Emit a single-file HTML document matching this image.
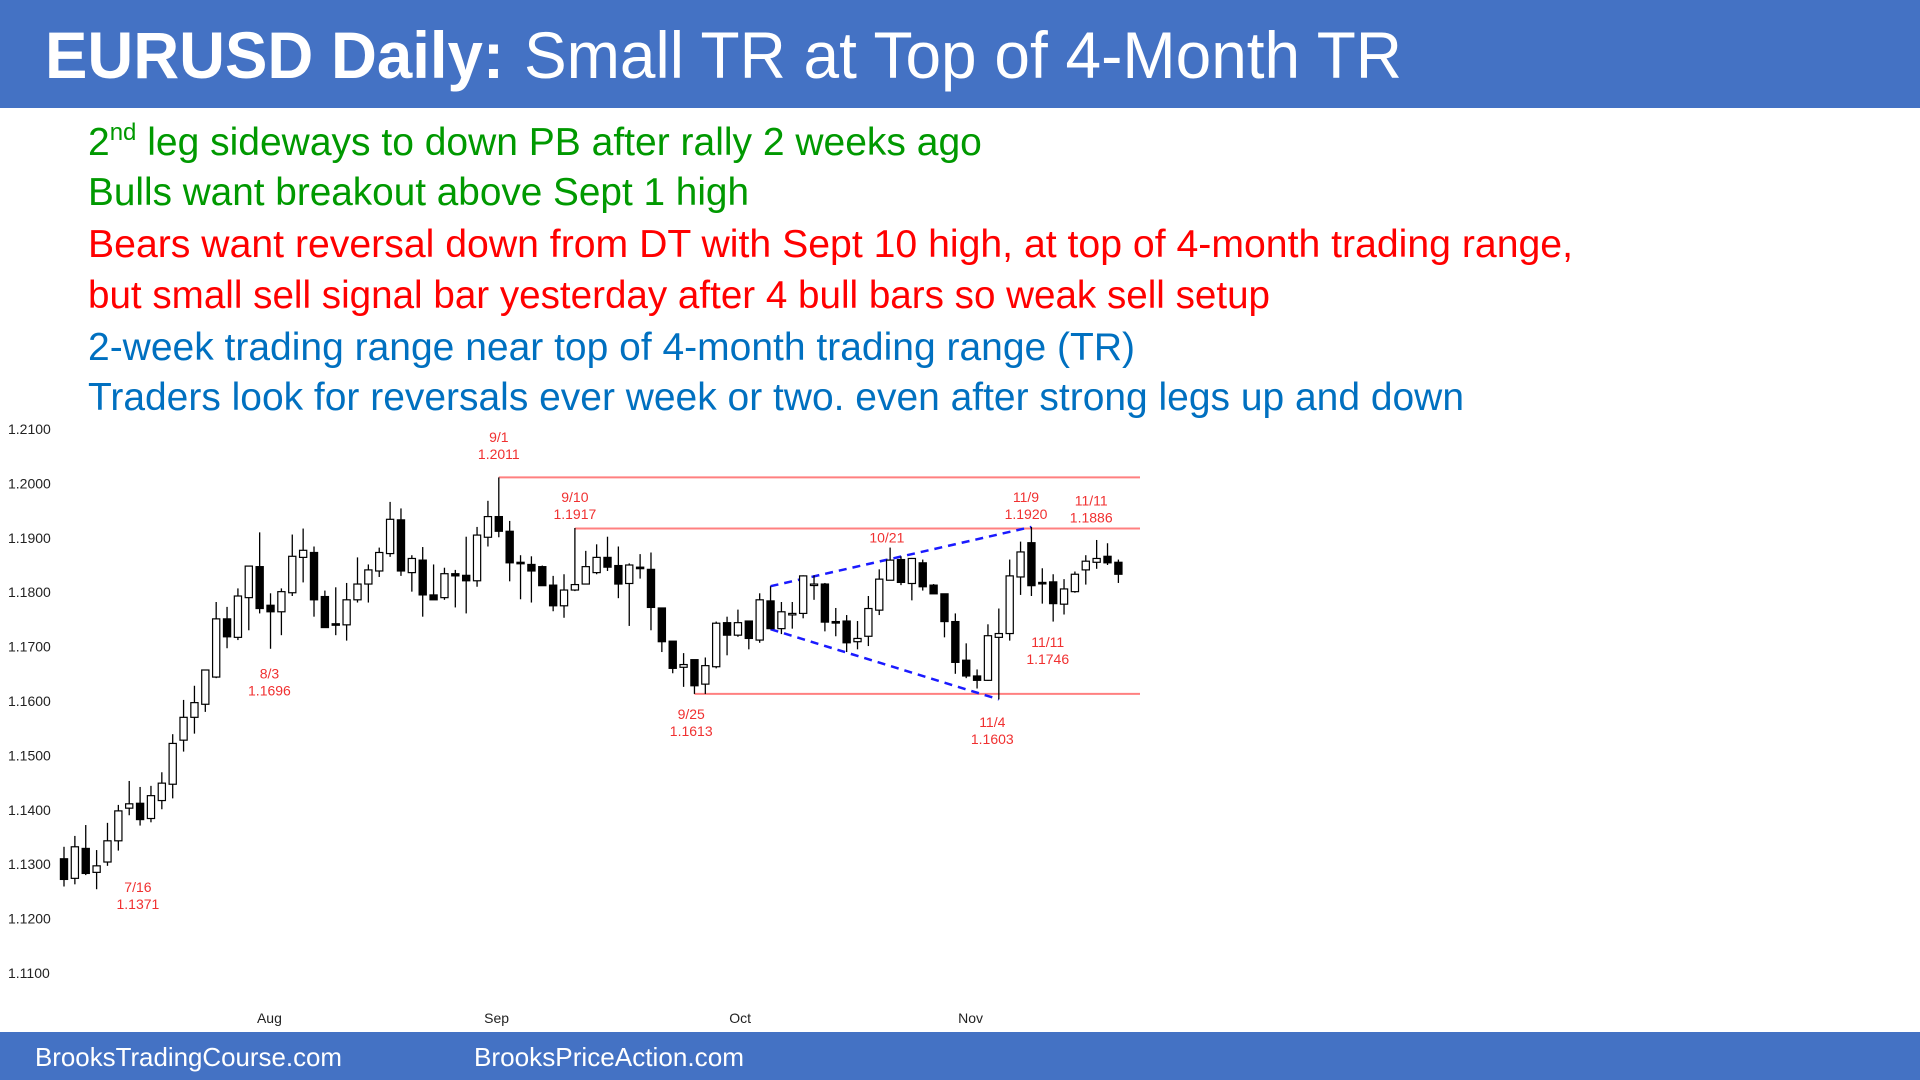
<!DOCTYPE html>
<html><head><meta charset="utf-8"><style>
html,body{margin:0;padding:0;background:#fff;}
svg{display:block;font-family:"Liberation Sans",sans-serif;}
</style></head><body>
<svg id="s" width="1920" height="1080" viewBox="0 0 1920 1080" xmlns="http://www.w3.org/2000/svg">
<rect x="0" y="0" width="1920" height="108" fill="#4472c4"/>
<text x="45" y="78" font-size="66" font-weight="bold" fill="#fff" textLength="459" lengthAdjust="spacingAndGlyphs">EURUSD Daily:</text>
<text x="524" y="78" font-size="66" fill="#fff" textLength="878" lengthAdjust="spacingAndGlyphs">Small TR at Top of 4-Month TR</text>
<g font-size="39">
<text x="88" y="155" fill="#009900">2<tspan font-size="24" dy="-15">nd</tspan><tspan dy="15"> leg sideways to down PB after rally 2 weeks ago</tspan></text>
<text x="88" y="205" fill="#009900" textLength="661" lengthAdjust="spacingAndGlyphs">Bulls want breakout above Sept 1 high</text>
<text x="88" y="257" fill="#ff0000" textLength="1485" lengthAdjust="spacingAndGlyphs">Bears want reversal down from DT with Sept 10 high, at top of 4-month trading range,</text>
<text x="88" y="308" fill="#ff0000" textLength="1182" lengthAdjust="spacingAndGlyphs">but small sell signal bar yesterday after 4 bull bars so weak sell setup</text>
<text x="88" y="360" fill="#0070c0" textLength="1047" lengthAdjust="spacingAndGlyphs">2-week trading range near top of 4-month trading range (TR)</text>
<text x="88" y="410" fill="#0070c0" textLength="1376" lengthAdjust="spacingAndGlyphs">Traders look for reversals ever week or two. even after strong legs up and down</text>
</g>
<g id="chart"></g>
<rect x="0" y="1032" width="1920" height="48" fill="#4472c4"/>
<text x="35" y="1066" font-size="26" fill="#fff" textLength="307" lengthAdjust="spacingAndGlyphs">BrooksTradingCourse.com</text>
<text x="474" y="1066" font-size="26" fill="#fff" textLength="270" lengthAdjust="spacingAndGlyphs">BrooksPriceAction.com</text>
</svg>
<script>
const opens=[1.1310,1.1274,1.1329,1.1285,1.1304,1.1343,1.1403,1.1412,1.1384,1.1417,1.1447,1.1528,1.1570,1.1594,1.1644,1.1751,1.1717,1.1790,1.1847,1.1776,1.1764,1.1799,1.1864,1.1873,1.1792,1.1742,1.1740,1.1786,1.1815,1.1839,1.1871,1.1933,1.1836,1.1859,1.1795,1.1790,1.1834,1.1831,1.1821,1.1901,1.1939,1.1912,1.1855,1.1851,1.1847,1.1813,1.1775,1.1804,1.1815,1.1836,1.1864,1.1849,1.1816,1.1846,1.1842,1.1771,1.1710,1.1662,1.1676,1.1631,1.1663,1.1744,1.1721,1.1747,1.1712,1.1784,1.1733,1.1760,1.1761,1.1814,1.1815,1.1746,1.1747,1.1709,1.1719,1.1767,1.1822,1.1860,1.1816,1.1854,1.1813,1.1797,1.1746,1.1675,1.1646,1.1638,1.1717,1.1724,1.1828,1.1891,1.1818,1.1819,1.1778,1.1801,1.1841,1.1855,1.1866,1.1855];
const highs=[1.1332,1.1352,1.1372,1.1326,1.1376,1.1409,1.1453,1.1442,1.1444,1.1469,1.1539,1.1602,1.1628,1.1657,1.1782,1.1773,1.1807,1.1848,1.1910,1.1798,1.1807,1.1906,1.1917,1.1884,1.1803,1.1809,1.1817,1.1864,1.1851,1.1882,1.1966,1.1954,1.1868,1.1883,1.1851,1.1845,1.1841,1.1902,1.1920,1.1968,1.2011,1.1931,1.1868,1.1866,1.1849,1.1830,1.1833,1.1918,1.1876,1.1888,1.1902,1.1884,1.1853,1.1870,1.1873,1.1771,1.1710,1.1688,1.1676,1.1680,1.1746,1.1755,1.1768,1.1747,1.1798,1.1811,1.1782,1.1782,1.1831,1.1831,1.1817,1.1771,1.1758,1.1747,1.1793,1.1842,1.1882,1.1866,1.1863,1.1860,1.1815,1.1797,1.1761,1.1706,1.1658,1.1741,1.1770,1.1860,1.1893,1.1920,1.1844,1.1833,1.1824,1.1838,1.1868,1.1896,1.1890,1.1860];
const lows=[1.1259,1.1263,1.1280,1.1254,1.1297,1.1325,1.1390,1.1371,1.1377,1.1401,1.1421,1.1507,1.1540,1.1580,1.1642,1.1697,1.1712,1.1730,1.1761,1.1696,1.1721,1.1793,1.1818,1.1755,1.1735,1.1721,1.1711,1.1781,1.1781,1.1828,1.1865,1.1830,1.1801,1.1755,1.1786,1.1786,1.1772,1.1761,1.1810,1.1884,1.1901,1.1820,1.1787,1.1781,1.1812,1.1765,1.1753,1.1802,1.1815,1.1833,1.1839,1.1789,1.1738,1.1825,1.1730,1.1690,1.1651,1.1626,1.1613,1.1613,1.1660,1.1684,1.1718,1.1695,1.1707,1.1732,1.1723,1.1733,1.1752,1.1786,1.1728,1.1719,1.1690,1.1695,1.1701,1.1758,1.1822,1.1813,1.1785,1.1803,1.1797,1.1717,1.1650,1.1642,1.1623,1.1637,1.1603,1.1711,1.1795,1.1793,1.1779,1.1746,1.1759,1.1799,1.1814,1.1843,1.1850,1.1817];
const closes=[1.1272,1.1332,1.1283,1.1297,1.1343,1.1398,1.1411,1.1382,1.1426,1.1449,1.1522,1.1570,1.1597,1.1657,1.1751,1.1718,1.1793,1.1848,1.1770,1.1764,1.1801,1.1866,1.1877,1.1786,1.1735,1.1741,1.1786,1.1815,1.1841,1.1873,1.1934,1.1839,1.1862,1.1795,1.1786,1.1834,1.1830,1.1821,1.1905,1.1939,1.1912,1.1854,1.1853,1.1839,1.1812,1.1775,1.1804,1.1814,1.1847,1.1864,1.1846,1.1815,1.1850,1.1845,1.1772,1.1709,1.1660,1.1667,1.1628,1.1665,1.1743,1.1721,1.1744,1.1715,1.1786,1.1733,1.1764,1.1761,1.1830,1.1815,1.1745,1.1745,1.1707,1.1715,1.1770,1.1824,1.1859,1.1818,1.1862,1.1810,1.1797,1.1746,1.1671,1.1646,1.1638,1.1720,1.1724,1.1830,1.1874,1.1812,1.1817,1.1779,1.1806,1.1833,1.1857,1.1862,1.1854,1.1833];
const yTicks=[1.21,1.20,1.19,1.18,1.17,1.16,1.15,1.14,1.13,1.12,1.11];
const monthLabels=["Aug","Sep","Oct","Nov"];
const monthIdx=[18.9,39.8,62.2,83.4];
const levels=[1.2011,1.1917,1.1613];
const levelStart=[40,47,58];
const noteDates=["7/16","8/3","9/1","9/10","9/25","10/21","11/9","11/11","11/11","11/4"];
const noteValues=["1.1371","1.1696","1.2011","1.1917","1.1613","","1.1920","1.1886","1.1746","1.1603"];
const noteBar=[6.8,18.9,40,47,57.7,75.7,88.5,94.5,90.5,85.4];
const noteAnchor=[1.1258,1.1651,1.2085,1.1975,1.1576,1.1901,1.1975,1.1969,1.1708,1.1561];

const NS="http://www.w3.org/2000/svg";
const g=document.getElementById('chart');
const xs=i=>64+i*10.87;
const ys=p=>429+(1.21-p)*5440;
function mk(t,a,parent){const e=document.createElementNS(NS,t);for(const k in a)e.setAttribute(k,a[k]);(parent||g).appendChild(e);return e;}

yTicks.forEach(v=>{
  const t=mk('text',{x:8,y:ys(v)+5,'font-size':14,fill:'#222'});
  
  
  t.textContent=v.toFixed(4);
});
monthLabels.forEach((m,k)=>{
  const t=mk('text',{x:xs(monthIdx[k]),y:1023,'font-size':14,fill:'#222','text-anchor':'middle'});
  
  
  t.textContent=m;
});
levels.forEach((v,k)=>{
  const l=mk('line',{x1:xs(levelStart[k]),x2:1140,y1:ys(v),y2:ys(v),stroke:'#ff8080','stroke-width':2});
  
  
});
const w1=mk('line',{x1:xs(65),y1:ys(highs[65]),x2:xs(89),y2:ys(highs[89]),stroke:'#1a1aff','stroke-width':2.5,'stroke-dasharray':'8,6'});


const w2=mk('line',{x1:xs(65),y1:ys(lows[65]),x2:xs(86),y2:ys(lows[86]),stroke:'#1a1aff','stroke-width':2.5,'stroke-dasharray':'8,6'});



opens.forEach((o,i)=>{
  const c=closes[i],x=xs(i);
  const cg=mk('g',{});
  
  
  mk('line',{x1:x,x2:x,y1:ys(highs[i]),y2:ys(lows[i]),stroke:'#000','stroke-width':1.3},cg);
  const top=ys(Math.max(o,c)),bot=ys(Math.min(o,c));
  mk('rect',{x:x-3.6,y:top,width:7.2,height:Math.max(1.5,bot-top),fill:c>=o?'#fff':'#000',stroke:'#000','stroke-width':1.2},cg);
});

noteDates.forEach((d,k)=>{
  const x=xs(noteBar[k]);
  const y=ys(noteAnchor[k])+5;
  const t=mk('text',{x:x,y:y,'font-size':14,fill:'#f03030','text-anchor':'middle'});
  
  
  t.textContent=d;
  if(noteValues[k]){
    const t2=mk('text',{x:x,y:y+17,'font-size':14,fill:'#f03030','text-anchor':'middle'});
    
    
    t2.textContent=noteValues[k];
  }
});
</script>
</body></html>
